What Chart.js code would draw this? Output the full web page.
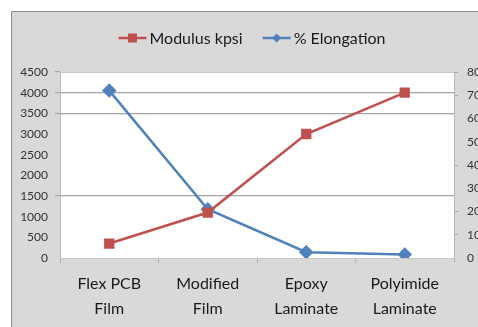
<!DOCTYPE html>
<html>
<head>
<meta charset="utf-8">
<script src="https://cdn.jsdelivr.net/npm/chart.js@4/dist/chart.umd.min.js"></script>
<style>
  html, body { margin: 0; padding: 0; background: #ffffff; }
  #wrap { width: 478px; height: 327px; }
</style>
</head>
<body>
<div id="wrap"><canvas id="c" width="478" height="327"></canvas></div>
<script>
// Materials compared
const categories = [["Flex PCB", "Film"], ["Modified", "Film"], ["Epoxy", "Laminate"], ["Polyimide", "Laminate"]];
// Tensile modulus, kpsi (left axis)
const modulusKpsi = [350, 1100, 3000, 4000];
// Elongation at break, % (right axis)
const elongationPct = [72, 21, 2.5, 1.5];
const seriesNames = ["Modulus kpsi", "% Elongation"];

const RED = "#c0504d";
const BLUE = "#4f81bd";
const FONT = "Lato, 'Open Sans', sans-serif";

// Panel background, framed border and white plot area
const panelPlugin = {
  id: "panel",
  beforeDraw(chart) {
    const ctx = chart.ctx;
    const a = chart.chartArea;
    ctx.save();
    ctx.fillStyle = "#ffffff";
    ctx.fillRect(0, 0, chart.width, chart.height);
    ctx.fillStyle = "#d9d9d9";
    ctx.fillRect(12, 12, chart.width, chart.height);
    ctx.strokeStyle = "#8c8c8c";
    ctx.lineWidth = 1;
    ctx.beginPath();
    ctx.moveTo(11.5, chart.height);
    ctx.lineTo(11.5, 11.5);
    ctx.lineTo(chart.width, 11.5);
    ctx.stroke();
    ctx.fillStyle = "#ffffff";
    ctx.fillRect(a.left, a.top, a.right - a.left, a.bottom - a.top);
    ctx.strokeStyle = "#c8c8c8";
    ctx.beginPath();
    ctx.moveTo(a.left, a.top + 0.5);
    ctx.lineTo(a.right, a.top + 0.5);
    ctx.stroke();
    ctx.restore();
  }
};

// Legend drawn above the plot: line sample with marker, then the series name
const legendPlugin = {
  id: "lineLegend",
  afterDraw(chart) {
    const ctx = chart.ctx;
    ctx.save();
    ctx.font = "16px " + FONT;
    ctx.textBaseline = "middle";
    const y = 38;
    const items = chart.data.datasets.map(ds => ({
      text: ds.label, color: ds.borderColor, style: ds.pointStyle
    }));
    const sample = 28, gap = 3, between = 20;
    let total = 0;
    items.forEach((it, i) => {
      total += sample + gap + ctx.measureText(it.text).width + (i ? between : 0);
    });
    let x = 252 - total / 2;
    items.forEach((it, i) => {
      if (i) x += between;
      ctx.strokeStyle = it.color;
      ctx.fillStyle = it.color;
      ctx.lineWidth = 2.5;
      ctx.beginPath();
      ctx.moveTo(x, y);
      ctx.lineTo(x + sample, y);
      ctx.stroke();
      const cx = x + sample / 2;
      if (it.style === "rect") {
        ctx.fillRect(cx - 4.5, y - 4.5, 9, 9);
      } else {
        ctx.beginPath();
        ctx.moveTo(cx, y - 4.5);
        ctx.lineTo(cx + 4.5, y);
        ctx.lineTo(cx, y + 4.5);
        ctx.lineTo(cx - 4.5, y);
        ctx.closePath();
        ctx.fill();
      }
      x += sample + gap;
      ctx.fillStyle = "#1a1a1a";
      ctx.fillText(it.text, x, y + 1);
      x += ctx.measureText(it.text).width;
    });
    ctx.restore();
  }
};

const leftGrid = [4000, 3500, 1500];
const leftTicks = [4500, 4000, 3500, 1500];
const rightTicks = [80, 70, 40, 20, 10];
const plain = v => String(v);

new Chart(document.getElementById("c"), {
  type: "line",
  data: {
    labels: categories,
    datasets: [
      {
        label: seriesNames[0],
        data: modulusKpsi,
        yAxisID: "y",
        borderColor: RED,
        backgroundColor: RED,
        borderWidth: 2.5,
        pointStyle: "rect",
        pointRadius: 5.5,
        pointHoverRadius: 5.5,
        tension: 0
      },
      {
        label: seriesNames[1],
        data: elongationPct,
        yAxisID: "y1",
        borderColor: BLUE,
        backgroundColor: BLUE,
        borderWidth: 2.5,
        pointStyle: "rectRot",
        pointRadius: 5.5,
        pointHoverRadius: 5.5,
        tension: 0
      }
    ]
  },
  options: {
    responsive: false,
    animation: false,
    events: [],
    layout: { padding: { left: 12, top: 72, right: 0, bottom: 0 } },
    plugins: {
      legend: { display: false },
      tooltip: { enabled: false }
    },
    scales: {
      x: {
        offset: true,
        afterFit(s) { s.height = 69; },
        border: { display: true, color: "#c8c8c8" },
        grid: {
          offset: true,
          drawOnChartArea: false,
          tickLength: 5,
          tickColor: "#b0b0b0"
        },
        ticks: {
          color: "#1a1a1a",
          padding: 8,
          font: { family: FONT, size: 16, lineHeight: "25px" }
        }
      },
      y: {
        position: "left",
        min: 0,
        max: 4500,
        afterFit(s) { s.width = 48; },
        border: { display: true, color: "#b8b8b8" },
        grid: {
          color: c => leftGrid.includes(c.tick && c.tick.value) ? "#a6a6a6" : "rgba(0,0,0,0)",
          tickColor: c => leftTicks.includes(c.tick && c.tick.value) ? "#a6a6a6" : "rgba(0,0,0,0)",
          tickLength: 5,
          lineWidth: 1.2
        },
        ticks: {
          stepSize: 500,
          callback: plain,
          color: "#333333",
          padding: 7,
          font: { family: FONT, size: 12 }
        }
      },
      y1: {
        position: "right",
        min: 0,
        max: 80,
        afterFit(s) { s.width = 24; },
        border: { display: true, color: "#b8b8b8" },
        grid: {
          drawOnChartArea: false,
          tickColor: c => rightTicks.includes(c.tick && c.tick.value) ? "#a6a6a6" : "rgba(0,0,0,0)",
          tickLength: 4
        },
        ticks: {
          stepSize: 10,
          callback: plain,
          color: "#333333",
          padding: 9,
          font: { family: FONT, size: 12 }
        }
      }
    }
  },
  plugins: [panelPlugin, legendPlugin]
});
</script>
</body>
</html>
